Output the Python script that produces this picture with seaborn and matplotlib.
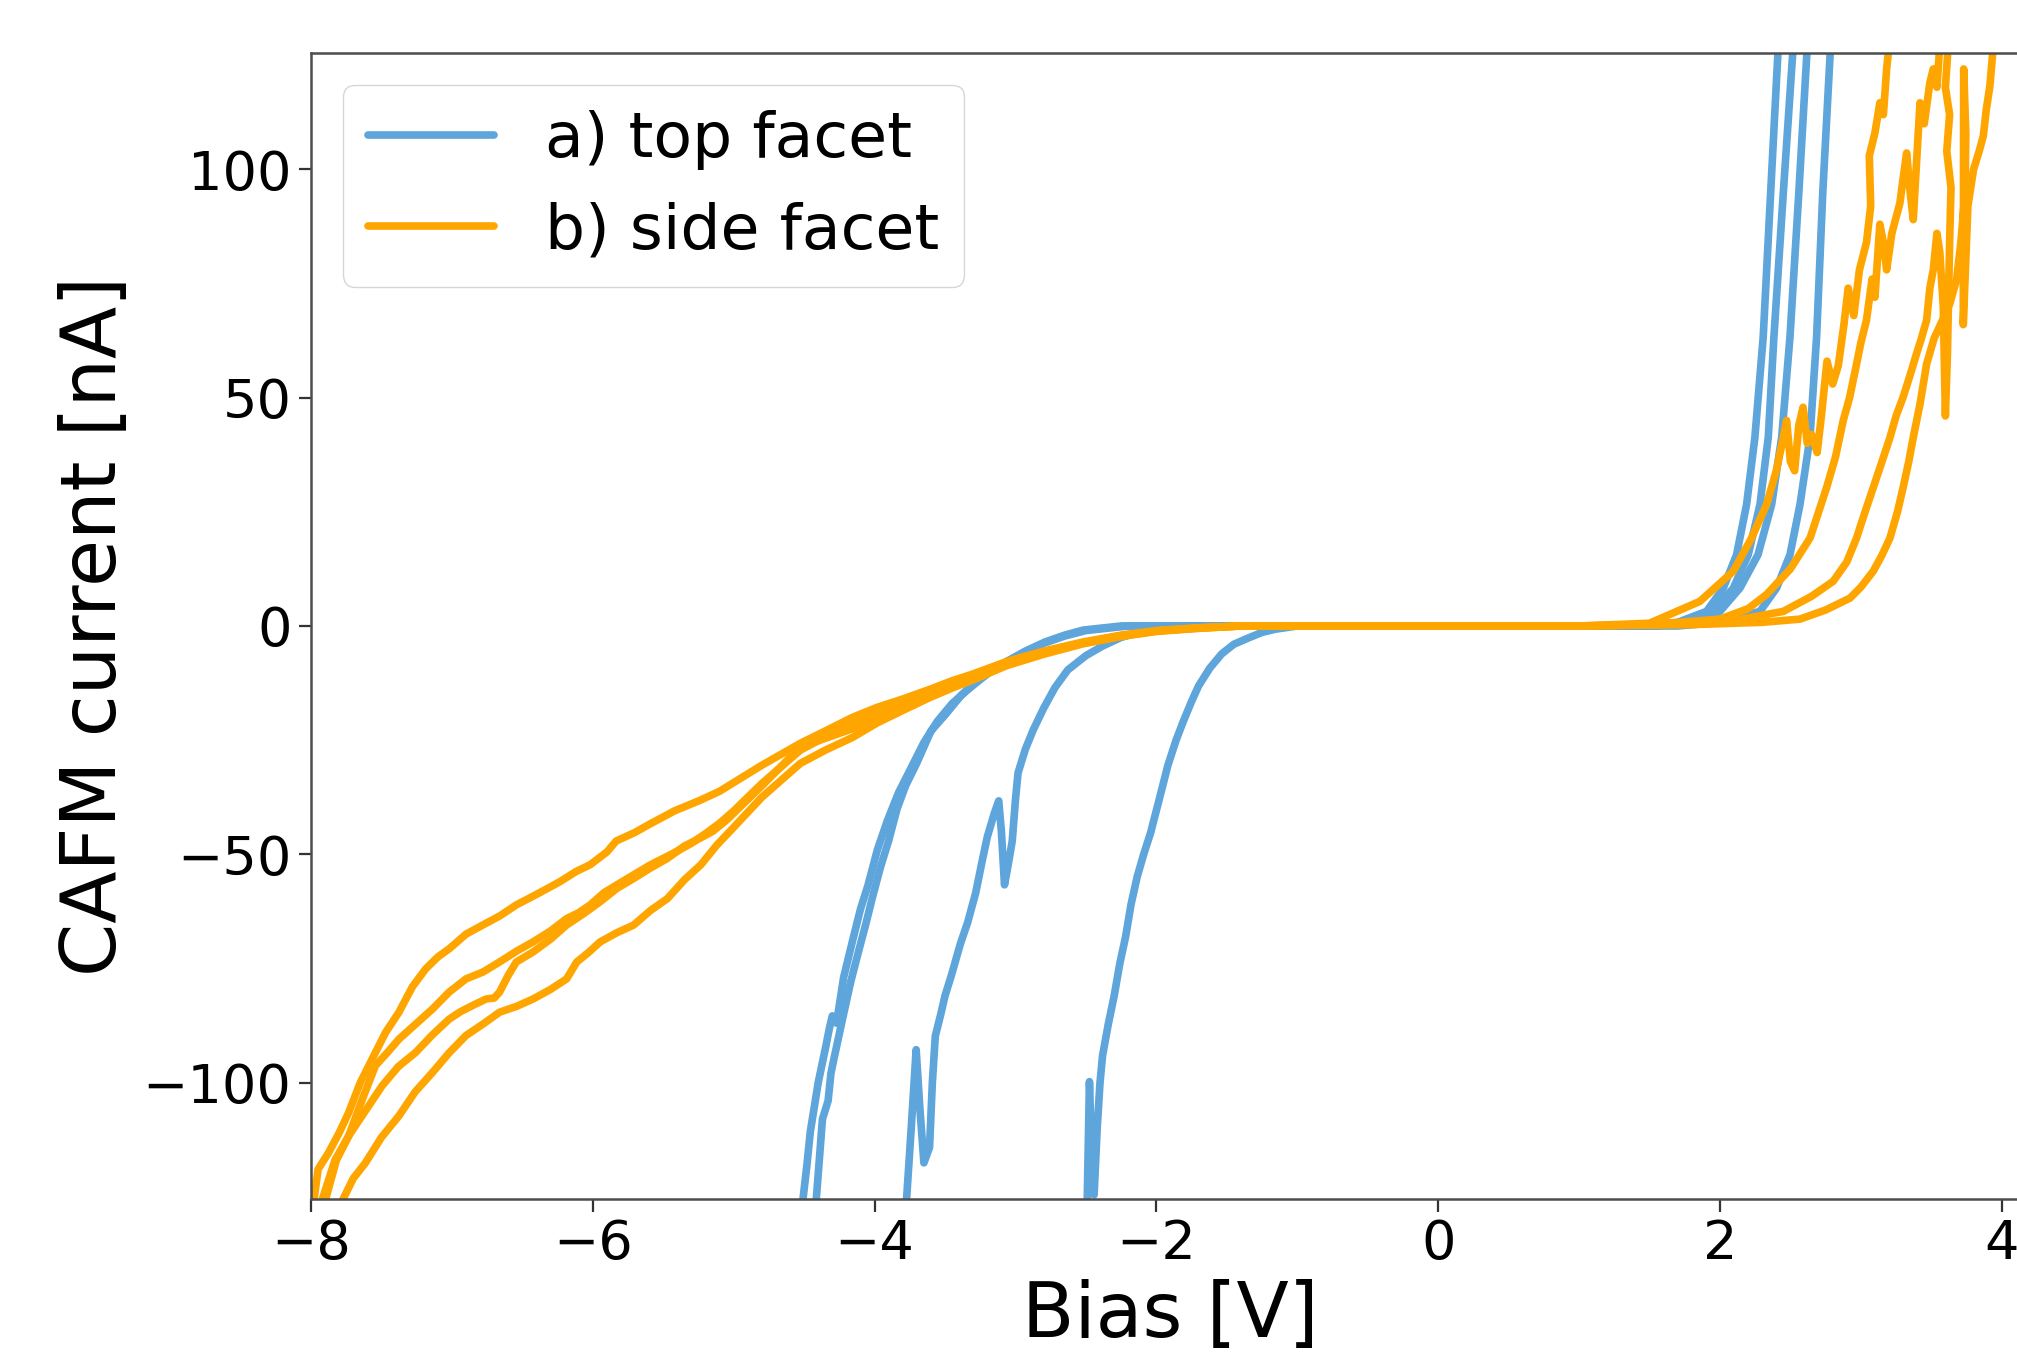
import matplotlib
matplotlib.use("Agg")
import matplotlib.pyplot as plt
import pandas as pd
import seaborn as sns
from matplotlib.lines import Line2D

# top facet sweeps (bias [V], current [nA])
TOP_SWEEP_1 = [(-4.51, -126), (-4.48, -118), (-4.456, -110.7), (-4.40, -100), (-4.347, -92.2), (-4.32, -88),
               (-4.30, -85.4), (-4.27, -87), (-4.22, -77), (-4.156, -68.9), (-4.10, -62), (-4.046, -56.7),
               (-3.98, -49), (-3.91, -42.7), (-3.83, -36.5), (-3.746, -31.4), (-3.65, -25.5), (-3.555, -20.9),
               (-3.45, -17), (-3.337, -13.9), (-3.20, -10.5), (-3.064, -7.8), (-2.93, -5.5), (-2.79, -3.5),
               (-2.65, -2.0), (-2.52, -0.9), (-2.25, 0), (-1.5, 0), (0.0, 0), (1.0, 0), (1.45, 0), (1.70, 0.8),
               (1.905, 3.2), (2.024, 8.3), (2.118, 15.6), (2.189, 26.6), (2.248, 41.3), (2.307, 63.3),
               (2.36, 95), (2.414, 127)]
TOP_SWEEP_2 = [(-4.415, -126), (-4.39, -116), (-4.37, -108), (-4.33, -104), (-4.31, -98), (-4.29, -95),
               (-4.22, -85), (-4.17, -78), (-4.12, -72), (-4.06, -65), (-4.02, -60), (-3.96, -53), (-3.90, -47),
               (-3.84, -40), (-3.78, -35), (-3.70, -30), (-3.60, -23), (-3.50, -19.5), (-3.38, -15),
               (-3.25, -11.5), (-3.10, -8.5), (-2.95, -6.0), (-2.80, -3.8), (-2.65, -2.2), (-2.50, -1.0),
               (-2.2, 0), (-1.5, 0), (0.0, 0), (1.0, 0), (1.5, 0), (1.75, 0.8), (1.953, 3.2), (2.095, 8.3),
               (2.201, 15.6), (2.284, 26.6), (2.343, 41.3), (2.383, 63.3), (2.45, 95), (2.52, 127)]
TOP_SWEEP_3 = [(-3.774, -126), (-3.74, -110), (-3.705, -92.8), (-3.68, -105), (-3.65, -117.6), (-3.61, -114.2),
               (-3.59, -100), (-3.569, -89.8), (-3.53, -85), (-3.501, -81.1), (-3.45, -76), (-3.392, -69.7),
               (-3.34, -65), (-3.282, -58.4), (-3.24, -52), (-3.2, -46.2), (-3.15, -41), (-3.119, -38.3),
               (-3.10, -45), (-3.078, -56.7), (-3.05, -52), (-3.023, -47.1), (-3.0, -38), (-2.982, -32.2),
               (-2.93, -27), (-2.873, -22.7), (-2.80, -18), (-2.72, -13.5), (-2.628, -9.6), (-2.5, -6.5),
               (-2.382, -4.4), (-2.25, -2.5), (-2.109, -1.3), (-1.9, -0.4), (-1.7, 0), (0.0, 0), (1.0, 0),
               (1.55, 0), (1.8, 0.8), (2.0, 3.2), (2.142, 8.3), (2.27, 15.6), (2.367, 26.6), (2.438, 41.3),
               (2.497, 63.3), (2.56, 95), (2.62, 127)]
TOP_SWEEP_4 = [(-2.491, -126), (-2.475, -99.8), (-2.46, -115), (-2.442, -124.6), (-2.42, -110), (-2.40, -100),
               (-2.382, -94.1), (-2.34, -87), (-2.30, -81.1), (-2.26, -74), (-2.218, -68.0), (-2.18, -61),
               (-2.136, -54.9), (-2.09, -50), (-2.041, -45.3), (-1.98, -38), (-1.918, -30.5), (-1.86, -25),
               (-1.809, -20.9), (-1.75, -16.5), (-1.70, -13.1), (-1.62, -9.2), (-1.536, -6.1), (-1.45, -4.0),
               (-1.345, -2.6), (-1.25, -1.4), (-1.154, -0.7), (-1.0, 0), (0.0, 0), (1.0, 0), (1.7, 0),
               (2.0, 0.8), (2.284, 3.2), (2.402, 8.3), (2.497, 15.6), (2.568, 26.6), (2.639, 41.3),
               (2.686, 63.3), (2.73, 95), (2.785, 127)]

# side facet sweeps
SIDE_SWEEP_1 = [(-7.98, -126), (-7.95, -119), (-7.876, -115.4), (-7.80, -111), (-7.733, -106.6),
                (-7.65, -100), (-7.567, -94.9), (-7.47, -89), (-7.376, -84.6), (-7.28, -79), (-7.186, -75.1),
                (-7.10, -72.5), (-7.019, -70.7), (-6.90, -67.5), (-6.781, -65.5), (-6.66, -63.5),
                (-6.543, -61.1), (-6.40, -58.8), (-6.233, -56.0), (-6.12, -53.8), (-6.019, -52.3),
                (-5.90, -49.5), (-5.834, -47.1), (-5.70, -45.2), (-5.596, -43.4), (-5.42, -40.5),
                (-5.24, -38.2), (-5.10, -36.2), (-5.0, -34.3), (-4.80, -30.5), (-4.527, -25.7), (-4.35, -23),
                (-4.156, -20), (-3.98, -17.8), (-3.8, -16), (-3.61, -13.9), (-3.45, -12), (-3.3, -10.5),
                (-3.064, -7.8), (-2.8, -5.5), (-2.52, -3.5), (-2.25, -2.0), (-2.0, -1.0), (-1.7, -0.4),
                (-1.4, 0), (0.0, 0), (1.0, 0), (1.5, 0.6), (1.858, 5.4), (2.095, 12), (2.22, 19),
                (2.331, 26.6), (2.40, 34), (2.45, 41.3), (2.473, 45), (2.50, 36), (2.53, 34), (2.56, 44),
                (2.59, 47.9), (2.62, 40), (2.65, 42), (2.69, 38), (2.72, 46), (2.76, 58), (2.80, 53),
                (2.84, 57), (2.88, 66), (2.91, 74), (2.95, 68), (2.99, 78), (3.04, 84), (3.07, 92),
                (3.06, 103), (3.10, 108), (3.135, 114.6), (3.16, 112), (3.183, 122), (3.20, 127)]
SIDE_SWEEP_2 = [(-7.9, -126), (-7.82, -117), (-7.734, -111.8), (-7.64, -104), (-7.543, -96.3),
                (-7.46, -93.5), (-7.376, -90.5), (-7.25, -87), (-7.138, -83.9), (-7.02, -80.2), (-6.9, -77.3),
                (-6.78, -75.8), (-6.662, -73.6), (-6.54, -71.2), (-6.424, -69.2), (-6.30, -66.8),
                (-6.186, -64.1), (-6.10, -62.8), (-6.019, -61.1), (-5.92, -58.4), (-5.829, -56.7),
                (-5.71, -54.5), (-5.59, -52.3), (-5.43, -49.8), (-5.30, -47.6), (-5.192, -45.3),
                (-5.10, -43.2), (-5.0, -40.5), (-4.80, -34.5), (-4.527, -27.2), (-4.35, -24.3),
                (-4.156, -21.5), (-3.98, -19.0), (-3.8, -16.8), (-3.61, -14.5), (-3.45, -12.6), (-3.3, -11.0),
                (-3.064, -8.2), (-2.8, -5.8), (-2.52, -3.7), (-2.25, -2.1), (-2.0, -1.1), (-1.7, -0.4),
                (-1.4, 0), (0.0, 0), (1.0, 0), (1.5, 0.3), (2.0, 1.5), (2.2, 3.8), (2.331, 6.9), (2.5, 12.5),
                (2.64, 19.3), (2.757, 30.3), (2.82, 37), (2.875, 45), (2.92, 50), (2.97, 57.4), (3.0, 62),
                (3.04, 67), (3.08, 76), (3.10, 72), (3.135, 88), (3.16, 84), (3.183, 78), (3.22, 86),
                (3.277, 92.6), (3.30, 98), (3.325, 103.6), (3.35, 95), (3.372, 89), (3.40, 104),
                (3.42, 114.6), (3.45, 110), (3.49, 119), (3.514, 122), (3.54, 118), (3.56, 127)]
SIDE_SWEEP_3 = [(-7.924, -126), (-7.83, -117), (-7.733, -111.7), (-7.61, -106), (-7.495, -100.7),
                (-7.38, -96.5), (-7.257, -93.4), (-7.14, -89.6), (-7.019, -86.1), (-6.94, -84.5),
                (-6.852, -83.1), (-6.757, -81.7), (-6.70, -81.5), (-6.662, -80.2), (-6.60, -76.5),
                (-6.543, -73.6), (-6.424, -71.4), (-6.30, -68.6), (-6.186, -65.5), (-6.06, -62.9),
                (-5.948, -60.4), (-5.83, -57.5), (-5.71, -55.3), (-5.59, -53.0), (-5.47, -50.9),
                (-5.35, -48.2), (-5.24, -46.5), (-5.15, -45.0), (-5.05, -42.5), (-4.80, -35.0),
                (-4.527, -26.5), (-4.35, -24.6), (-4.156, -22.5), (-3.98, -19.7), (-3.8, -17.5),
                (-3.61, -15.0), (-3.45, -13.0), (-3.3, -11.3), (-3.064, -8.4), (-2.8, -6.0), (-2.52, -3.8),
                (-2.25, -2.2), (-2.0, -1.1), (-1.7, -0.5), (-1.4, 0), (0.0, 0), (1.0, 0), (1.6, 0.3),
                (2.1, 1.2), (2.45, 3.2), (2.65, 6.5), (2.804, 9.8), (2.9, 14), (2.97, 19.3), (3.03, 25),
                (3.088, 30.3), (3.15, 36), (3.207, 41.3), (3.25, 46), (3.3, 50.1), (3.35, 55), (3.395, 59.6),
                (3.43, 63), (3.467, 67), (3.49, 74), (3.514, 78), (3.54, 86), (3.56, 82), (3.585, 70),
                (3.60, 46), (3.615, 60), (3.63, 84), (3.64, 96), (3.61, 104), (3.63, 112), (3.60, 118),
                (3.62, 127)]
SIDE_SWEEP_4 = [(-7.78, -126), (-7.70, -121), (-7.614, -117.6), (-7.50, -112), (-7.376, -107.3),
                (-7.26, -102), (-7.138, -97.8), (-7.02, -93.5), (-6.9, -89.7), (-6.78, -87.2),
                (-6.662, -84.6), (-6.54, -83.3), (-6.424, -81.7), (-6.30, -79.6), (-6.186, -77.3),
                (-6.114, -73.6), (-6.03, -71.5), (-5.948, -69.2), (-5.83, -67.2), (-5.71, -65.5),
                (-5.59, -62.3), (-5.47, -59.7), (-5.35, -55.6), (-5.233, -52.3), (-5.12, -48.0),
                (-5.0, -44.1), (-4.80, -37.5), (-4.527, -30.1), (-4.35, -27.2), (-4.156, -24.4),
                (-3.98, -21.2), (-3.8, -18.5), (-3.61, -15.7), (-3.45, -13.6), (-3.3, -11.8), (-3.064, -8.7),
                (-2.8, -6.2), (-2.52, -3.9), (-2.25, -2.3), (-2.0, -1.2), (-1.7, -0.5), (-1.4, 0), (0.0, 0),
                (1.0, 0), (1.8, 0.3), (2.3, 0.8), (2.567, 1.5), (2.75, 3.5), (2.923, 6.1), (3.0, 8.5),
                (3.088, 12), (3.15, 15.5), (3.207, 19.3), (3.26, 25), (3.3, 30.3), (3.34, 36), (3.372, 41.3),
                (3.42, 48.6), (3.467, 57.4), (3.52, 63), (3.58, 67), (3.632, 70.6), (3.68, 76), (3.71, 84),
                (3.74, 95), (3.745, 108), (3.73, 122), (3.727, 66), (3.76, 92), (3.80, 100), (3.84, 104),
                (3.869, 107.3), (3.89, 113), (3.916, 118.3), (3.94, 127)]

TOP_SWEEPS = [TOP_SWEEP_1, TOP_SWEEP_2, TOP_SWEEP_3, TOP_SWEEP_4]
SIDE_SWEEPS = [SIDE_SWEEP_1, SIDE_SWEEP_2, SIDE_SWEEP_3, SIDE_SWEEP_4]

LABEL_TOP = "a) top facet"
LABEL_SIDE = "b) side facet"
COLOR_TOP = "#5DA5DA"
COLOR_SIDE = "#FFA500"

X_TICKS = [-8, -6, -4, -2, 0, 2, 4]
Y_TICKS = [-100, -50, 0, 50, 100]


def sweeps_to_frame(sweeps, facet):
    rows = []
    for i, sweep in enumerate(sweeps):
        for bias, current in sweep:
            rows.append({"bias": bias, "current": current, "facet": facet, "sweep": f"{facet}-{i}"})
    return pd.DataFrame(rows)


sns.set_theme(style="ticks")
plt.rcParams["font.family"] = ["DejaVu Sans"]
plt.rcParams["axes.unicode_minus"] = True

top_df = sweeps_to_frame(TOP_SWEEPS, LABEL_TOP)
side_df = sweeps_to_frame(SIDE_SWEEPS, LABEL_SIDE)

fig = plt.figure(figsize=(20.17, 13.52), dpi=100)
# the right spine sits past the figure edge, as in the cropped original
ax = fig.add_axes([0.1542, 0.1132, 0.8522, 0.8476])

lw = 5.5
sns.lineplot(data=top_df, x="bias", y="current", units="sweep", estimator=None, sort=False,
             color=COLOR_TOP, linewidth=lw, ax=ax, legend=False)
sns.lineplot(data=side_df, x="bias", y="current", units="sweep", estimator=None, sort=False,
             color=COLOR_SIDE, linewidth=lw, ax=ax, legend=False)

ax.set_xlim(-8, 4.2)
ax.set_ylim(-125.5, 125.5)
ax.set_xticks(X_TICKS)
ax.set_yticks(Y_TICKS)
ax.tick_params(axis="both", labelsize=39, length=9, width=1.6, color="0.2", labelcolor="black", pad=5)
for spine in ax.spines.values():
    spine.set_linewidth(1.8)
    spine.set_color("0.3")

ax.set_xlabel("Bias [V]", fontsize=55, color="black", labelpad=6)
ax.set_ylabel("CAFM current [nA]", fontsize=55, color="black", labelpad=7.5)

handles = [Line2D([0], [0], color=COLOR_TOP, linewidth=lw),
           Line2D([0], [0], color=COLOR_SIDE, linewidth=lw)]
leg = ax.legend(handles, [LABEL_TOP, LABEL_SIDE], loc="upper left", fontsize=45.5, frameon=True,
                fancybox=True, framealpha=0.8, edgecolor="0.8")
for text in leg.get_texts():
    text.set_color("black")

fig.savefig("out.png", dpi=100)
